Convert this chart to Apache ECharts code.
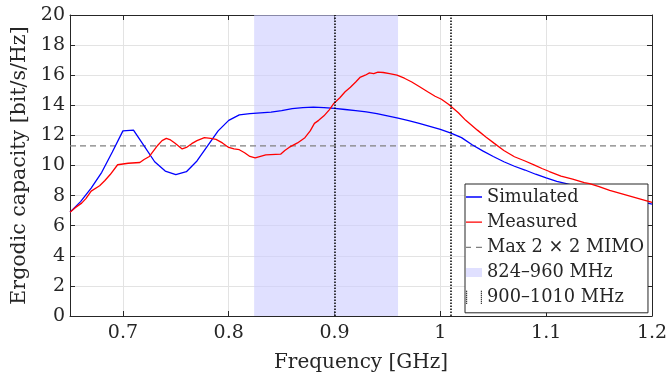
<!DOCTYPE html>
<html><head><meta charset="utf-8">
<script src="https://cdn.jsdelivr.net/npm/echarts@6/dist/echarts.min.js"></script>
<style>html,body{margin:0;padding:0;background:#fff}#c{width:669px;height:381px}</style>
</head><body><div id="c"></div>
<script>
// ---- data ----
const xTicks = [0.7, 0.8, 0.9, 1.0, 1.1, 1.2];
const xRange = [0.65, 1.2];
const yRange = [0, 20];
const yStep = 2;

const simFreq = [0.65,0.66,0.67,0.68,0.69,0.70,0.71,0.72,0.73,0.74,0.75,0.76,0.77,0.78,0.79,0.80,
  0.81,0.82,0.83,0.84,0.85,0.86,0.87,0.88,0.89,0.90,0.91,0.92,0.93,0.94,0.95,0.96,0.97,0.98,0.99,1.00,
  1.01,1.02,1.03,1.04,1.05,1.06,1.07,1.08,1.09,1.10,1.11,1.12,1.13,1.14,1.15,1.16,1.17,1.18,1.19,1.20];
const simCap = [6.9,7.6,8.5,9.55,10.9,12.3,12.35,11.3,10.25,9.63,9.4,9.59,10.3,11.3,12.3,13.0,
  13.36,13.45,13.5,13.55,13.65,13.78,13.85,13.88,13.85,13.8,13.72,13.64,13.56,13.45,13.3,13.15,12.98,12.8,12.6,12.4,
  12.15,11.85,11.38,10.97,10.6,10.25,9.95,9.7,9.42,9.18,8.95,8.78,8.6,8.43,8.26,8.1,7.93,7.77,7.6,7.43];

const measFreq = [0.650,0.655,0.661,0.665,0.670,0.678,0.683,0.688,0.695,0.700,0.705,0.716,0.720,0.725,
  0.733,0.737,0.741,0.745,0.749,0.756,0.760,0.765,0.770,0.777,0.783,0.788,0.794,0.800,0.805,0.810,0.815,
  0.820,0.825,0.830,0.835,0.849,0.853,0.857,0.865,0.872,0.877,0.881,0.885,0.890,0.895,0.899,0.905,0.910,
  0.915,0.920,0.924,0.929,0.933,0.937,0.941,0.946,0.952,0.959,0.966,0.973,0.980,0.988,0.995,1.001,1.008,
  1.017,1.024,1.035,1.043,1.051,1.060,1.070,1.080,1.089,1.096,1.103,1.114,1.125,1.136,1.141,1.150,1.160,
  1.170,1.180,1.190,1.200];
const measCap = [6.9,7.2,7.5,7.8,8.3,8.65,9.0,9.4,10.05,10.1,10.15,10.2,10.4,10.6,
  11.35,11.65,11.8,11.7,11.5,11.1,11.2,11.45,11.65,11.85,11.8,11.74,11.5,11.2,11.1,11.05,10.85,
  10.6,10.5,10.6,10.7,10.75,11.0,11.2,11.5,11.85,12.3,12.8,13.0,13.3,13.7,14.1,14.5,14.9,
  15.2,15.55,15.85,16.0,16.15,16.1,16.2,16.18,16.1,16.0,15.8,15.55,15.25,14.9,14.6,14.4,14.05,
  13.5,13.0,12.35,11.9,11.47,11.0,10.58,10.3,10.03,9.8,9.6,9.3,9.1,8.86,8.8,8.6,8.35,
  8.15,7.95,7.75,7.55];

const mimoMax = 11.3;
const bandRange = [0.824, 0.96];
const markerFreqs = [0.9, 1.01];

const seriesNames = ['Simulated', 'Measured', 'Max 2 × 2 MIMO', '824–960 MHz', '900–1010 MHz'];

// ---- styling ----
const FONT = 'DejaVu Serif';
const AX = '#262626';
const GRID = '#e3e3e3';

// legend icons (16 x 14 boxes)
const solidIcon = 'path://M0,0h16v0.01h-16z M0,6.35h16v1.3h-16z M0,13.99h16v0.01h-16z';
const dashIcon = 'path://M0,0h16v0.01h-16z M0,6.4h5v1.2h-5z M10,6.4h6v1.2h-6z M0,13.99h16v0.01h-16z';
const bandIcon = 'path://M0,0h16v0.01h-16z M0,2.5h16v9h-16z M0,13.99h16v0.01h-16z';
let dotIcon = 'path://';
for (let y = 0; y < 14; y += 2) {
  dotIcon += `M0,${y}h1.2v1h-1.2z M14.8,${y}h1.2v1h-1.2z `;
}
dotIcon += 'M0,13.99h16v0.01h-16z';

const chart = echarts.init(document.getElementById('c'), null, {renderer: 'canvas'});
chart.setOption({
  animation: false,
  backgroundColor: '#fff',
  textStyle: {fontFamily: FONT},
  grid: {left: 70, right: 17, top: 15, bottom: 65, outerBoundsMode: 'none', containLabel: false},
  xAxis: [{
    type: 'value', min: xRange[0], max: xRange[1],
    name: 'Frequency [GHz]', nameLocation: 'middle', nameGap: 37,
    nameTextStyle: {fontFamily: FONT, fontSize: 20, color: AX},
    axisLine: {show: true, onZero: false, lineStyle: {color: AX, width: 1}},
    axisTick: {show: true, inside: true, length: 5, customValues: xTicks, lineStyle: {color: AX}},
    axisLabel: {customValues: xTicks, fontFamily: FONT, fontSize: 19, color: AX, margin: 8,
      formatter: v => String(+v.toFixed(2))},
    splitLine: {show: true, lineStyle: {color: GRID, width: 1}}
  }, {
    type: 'value', position: 'top', min: xRange[0], max: xRange[1],
    axisLine: {show: true, onZero: false, lineStyle: {color: AX, width: 1}},
    axisTick: {show: true, inside: true, length: 5, customValues: xTicks, lineStyle: {color: AX}},
    axisLabel: {show: false}, splitLine: {show: false}
  }],
  yAxis: [{
    type: 'value', min: yRange[0], max: yRange[1], interval: yStep,
    name: 'Ergodic capacity [bit/s/Hz]', nameLocation: 'middle', nameGap: 35,
    nameTextStyle: {fontFamily: FONT, fontSize: 20.5, color: AX},
    axisLine: {show: true, onZero: false, lineStyle: {color: AX, width: 1}},
    axisTick: {show: true, inside: true, length: 5, lineStyle: {color: AX}},
    axisLabel: {fontFamily: FONT, fontSize: 19, color: AX, margin: 5},
    splitLine: {show: true, lineStyle: {color: GRID, width: 1}}
  }, {
    type: 'value', position: 'right', min: yRange[0], max: yRange[1], interval: yStep,
    axisLine: {show: true, onZero: false, lineStyle: {color: AX, width: 1}},
    axisTick: {show: true, inside: true, length: 5, lineStyle: {color: AX}},
    axisLabel: {show: false}, splitLine: {show: false}
  }],
  legend: {
    left: 465, top: 184, orient: 'vertical',
    padding: [2, 4, 4, 1], itemGap: 3.2, itemWidth: 16, itemHeight: 14, itemTextGap: 2,
    backgroundColor: '#fff', borderColor: AX, borderWidth: 1, borderRadius: 0,
    textStyle: {fontFamily: FONT, fontSize: 17.8, color: AX, lineHeight: 22},
    selectedMode: false,
    data: [
      {name: seriesNames[0], icon: solidIcon},
      {name: seriesNames[1], icon: solidIcon},
      {name: seriesNames[2], icon: dashIcon},
      {name: seriesNames[3], icon: bandIcon},
      {name: seriesNames[4], icon: dotIcon}
    ]
  },
  series: [
    {
      name: seriesNames[3], type: 'line', data: [], color: 'rgb(224,224,255)', z: 1,
      markArea: {silent: true, itemStyle: {color: 'rgba(204,204,255,0.6)'},
        data: [[{xAxis: bandRange[0]}, {xAxis: bandRange[1]}]]}
    },
    {
      name: seriesNames[2], type: 'line', symbol: 'none', color: '#808080', z: 2,
      data: xRange.map(x => [x, mimoMax]),
      lineStyle: {color: '#808080', width: 1.2, type: [6, 4]}
    },
    {
      name: seriesNames[0], type: 'line', symbol: 'none', color: '#0000ff', z: 3,
      data: simFreq.map((f, i) => [f, simCap[i]]),
      lineStyle: {color: '#0000ff', width: 1.3}
    },
    {
      name: seriesNames[1], type: 'line', symbol: 'none', color: '#ff0000', z: 4,
      data: measFreq.map((f, i) => [f, measCap[i]]),
      lineStyle: {color: '#ff0000', width: 1.3}
    },
    {
      name: seriesNames[4], type: 'line', data: [], color: '#000', z: 5,
      markLine: {silent: true, symbol: 'none', label: {show: false},
        lineStyle: {color: '#000', width: 1.5, type: [1.5, 1.5]},
        data: markerFreqs.map(v => ({xAxis: v}))}
    }
  ]
});
</script></body></html>
